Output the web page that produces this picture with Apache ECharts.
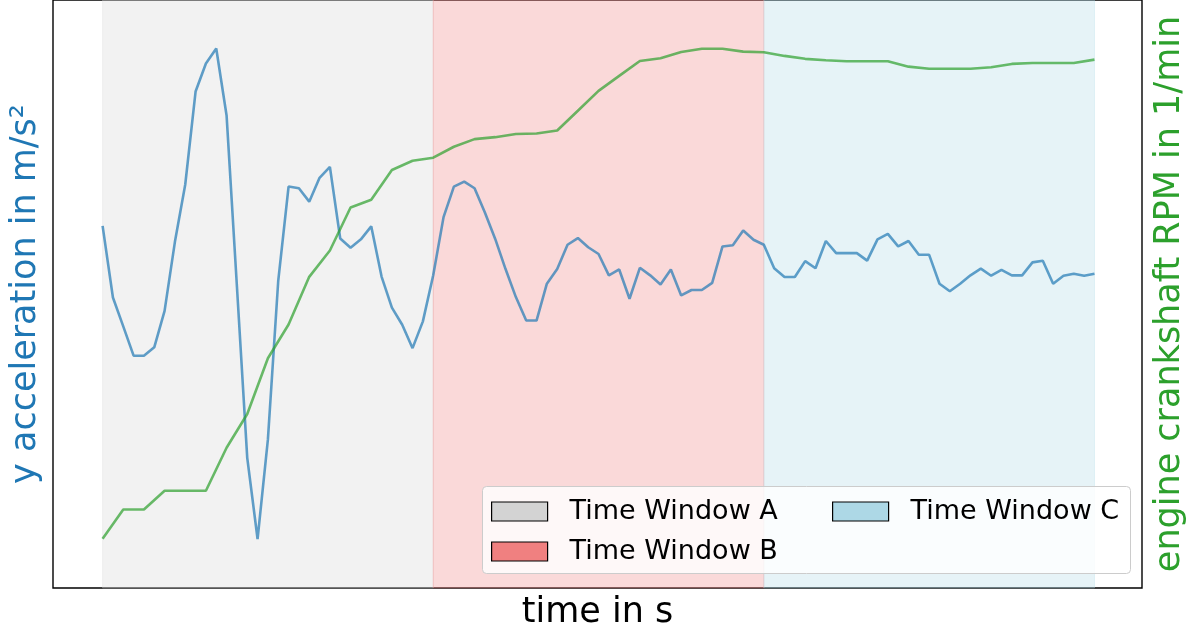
<!DOCTYPE html>
<html>
<head>
<meta charset="utf-8">
<script src="https://cdn.jsdelivr.net/npm/echarts@6/dist/echarts.min.js"></script>
<style>
  html, body { margin: 0; padding: 0; background: #fff; }
  #chart { width: 1195px; height: 635px; }
</style>
</head>
<body>
<div id="chart"></div>
<script>
// Lateral acceleration, sampled every 0.1 s
const accelDt = 0.1;
const accelY = [
  1.65, -0.06, -0.75, -1.45, -1.45, -1.25, -0.38, 1.27, 2.64, 4.86,
  5.53, 5.89, 4.29, 0.21, -3.89, -5.83, -3.45, 0.34, 2.59, 2.55,
  2.23, 2.80, 3.06, 1.35, 1.13, 1.33, 1.64, 0.44, -0.30, -0.71,
  -1.27, -0.63, 0.47, 1.86, 2.59, 2.71, 2.55, 1.97, 1.34, 0.62,
  -0.05, -0.61, -0.61, 0.27, 0.62, 1.20, 1.36, 1.14, 0.98, 0.47,
  0.61, -0.09, 0.65, 0.47, 0.25, 0.61, -0.01, 0.12, 0.12, 0.29,
  1.16, 1.19, 1.54, 1.32, 1.20, 0.64, 0.43, 0.43, 0.81, 0.64,
  1.29, 1.00, 1.00, 1.00, 0.82, 1.33, 1.46, 1.16, 1.29, 0.96,
  0.96, 0.27, 0.09, 0.27, 0.47, 0.63, 0.46, 0.60, 0.47, 0.47,
  0.78, 0.82, 0.27, 0.46, 0.51, 0.46, 0.51
];

// Engine crankshaft speed, sampled every 0.2 s
const rpmDt = 0.2;
const rpm = [
  752, 902, 902, 998, 998, 998, 1218, 1391, 1676, 1849,
  2093, 2228, 2448, 2488, 2640, 2687, 2703, 2759, 2798, 2808,
  2824, 2827, 2842, 2943, 3045, 3122, 3198, 3212, 3244, 3261,
  3261, 3246, 3243, 3224, 3209, 3202, 3197, 3197, 3197, 3169,
  3158, 3158, 3158, 3166, 3183, 3188, 3188, 3188, 3205
];

// Analysis windows [start, end] in s
const windowNames = ['Time Window A', 'Time Window B', 'Time Window C'];
const windowRanges = [[0, 3.2], [3.2, 6.4], [6.4, 9.6]];
const windowColors = ['rgb(211,211,211)', 'rgb(240,128,128)', 'rgb(173,216,230)'];
const windowFills = ['rgba(211,211,211,0.3)', 'rgba(240,128,128,0.3)', 'rgba(173,216,230,0.3)'];

const FONT = 'DejaVu Sans';

const accelData = accelY.map((v, i) => [+(i * accelDt).toFixed(2), v]);
const rpmData = rpm.map((v, i) => [+(i * rpmDt).toFixed(2), v]);

const windowSeries = windowNames.map((name, i) => ({
  name: name,
  type: 'line',
  data: [],
  color: windowColors[i],
  z: 1,
  silent: true,
  markArea: {
    silent: true,
    itemStyle: { color: windowFills[i], borderColor: windowFills[i], borderWidth: 1 },
    data: [[{ xAxis: windowRanges[i][0] }, { xAxis: windowRanges[i][1] }]]
  }
}));

const legendBase = {
  orient: 'horizontal',
  icon: 'rect',
  itemWidth: 56,
  itemHeight: 19,
  selectedMode: false,
  padding: 0,
  z: 60,
  itemStyle: { borderColor: '#000', borderWidth: 1.2 },
  textStyle: { fontFamily: FONT, fontSize: 27, color: '#000', lineHeight: 19, padding: [0, 0, 0, 17] }
};

const chart = echarts.init(document.getElementById('chart'), null, { renderer: 'canvas' });
chart.setOption({
  animation: false,
  backgroundColor: '#fff',
  grid: {
    left: 52, right: 50, top: -1, bottom: 47,
    show: true, borderColor: '#000', borderWidth: 1.4, backgroundColor: 'transparent'
  },
  xAxis: {
    type: 'value', min: -0.48, max: 10.06,
    name: 'time in s', nameLocation: 'middle', nameGap: 7,
    nameTextStyle: { fontFamily: FONT, fontSize: 35, color: '#000' },
    axisLine: { show: false }, axisTick: { show: false },
    axisLabel: { show: false }, splitLine: { show: false }
  },
  yAxis: [
    {
      type: 'value', min: -7, max: 7.0477, position: 'left',
      name: 'y acceleration in m/s²', nameLocation: 'middle', nameGap: 10, nameRotate: 90,
      nameTextStyle: { fontFamily: FONT, fontSize: 35, color: '#1f77b4' },
      axisLine: { show: false }, axisTick: { show: false },
      axisLabel: { show: false }, splitLine: { show: false }
    },
    {
      type: 'value', min: 500, max: 3510.2, position: 'right',
      name: 'engine crankshaft RPM in 1/min', nameLocation: 'middle', nameGap: 10, nameRotate: 90,
      nameTextStyle: { fontFamily: FONT, fontSize: 35, color: '#2ca02c' },
      axisLine: { show: false }, axisTick: { show: false },
      axisLabel: { show: false }, splitLine: { show: false }
    }
  ],
  legend: [
    Object.assign({}, legendBase, { data: ['Time Window A'], left: 491, top: 498 }),
    Object.assign({}, legendBase, { data: ['Time Window C'], left: 832, top: 498 }),
    Object.assign({}, legendBase, { data: ['Time Window B'], left: 491, top: 538 })
  ],
  graphic: [{
    type: 'rect', z: 50,
    shape: { x: 482.5, y: 486.5, width: 648, height: 87, r: 4 },
    style: { fill: 'rgba(255,255,255,0.8)', stroke: '#cccccc', lineWidth: 1 }
  }],
  series: windowSeries.concat([
    {
      name: 'y acceleration',
      type: 'line',
      yAxisIndex: 0,
      data: accelData,
      showSymbol: false,
      z: 3,
      lineStyle: { color: 'rgba(31,119,180,0.7)', width: 2.6 },
      itemStyle: { color: 'rgba(31,119,180,0.7)' }
    },
    {
      name: 'engine RPM',
      type: 'line',
      yAxisIndex: 1,
      data: rpmData,
      showSymbol: false,
      z: 3,
      lineStyle: { color: 'rgba(44,160,44,0.7)', width: 2.6 },
      itemStyle: { color: 'rgba(44,160,44,0.7)' }
    }
  ])
});
</script>
</body>
</html>
